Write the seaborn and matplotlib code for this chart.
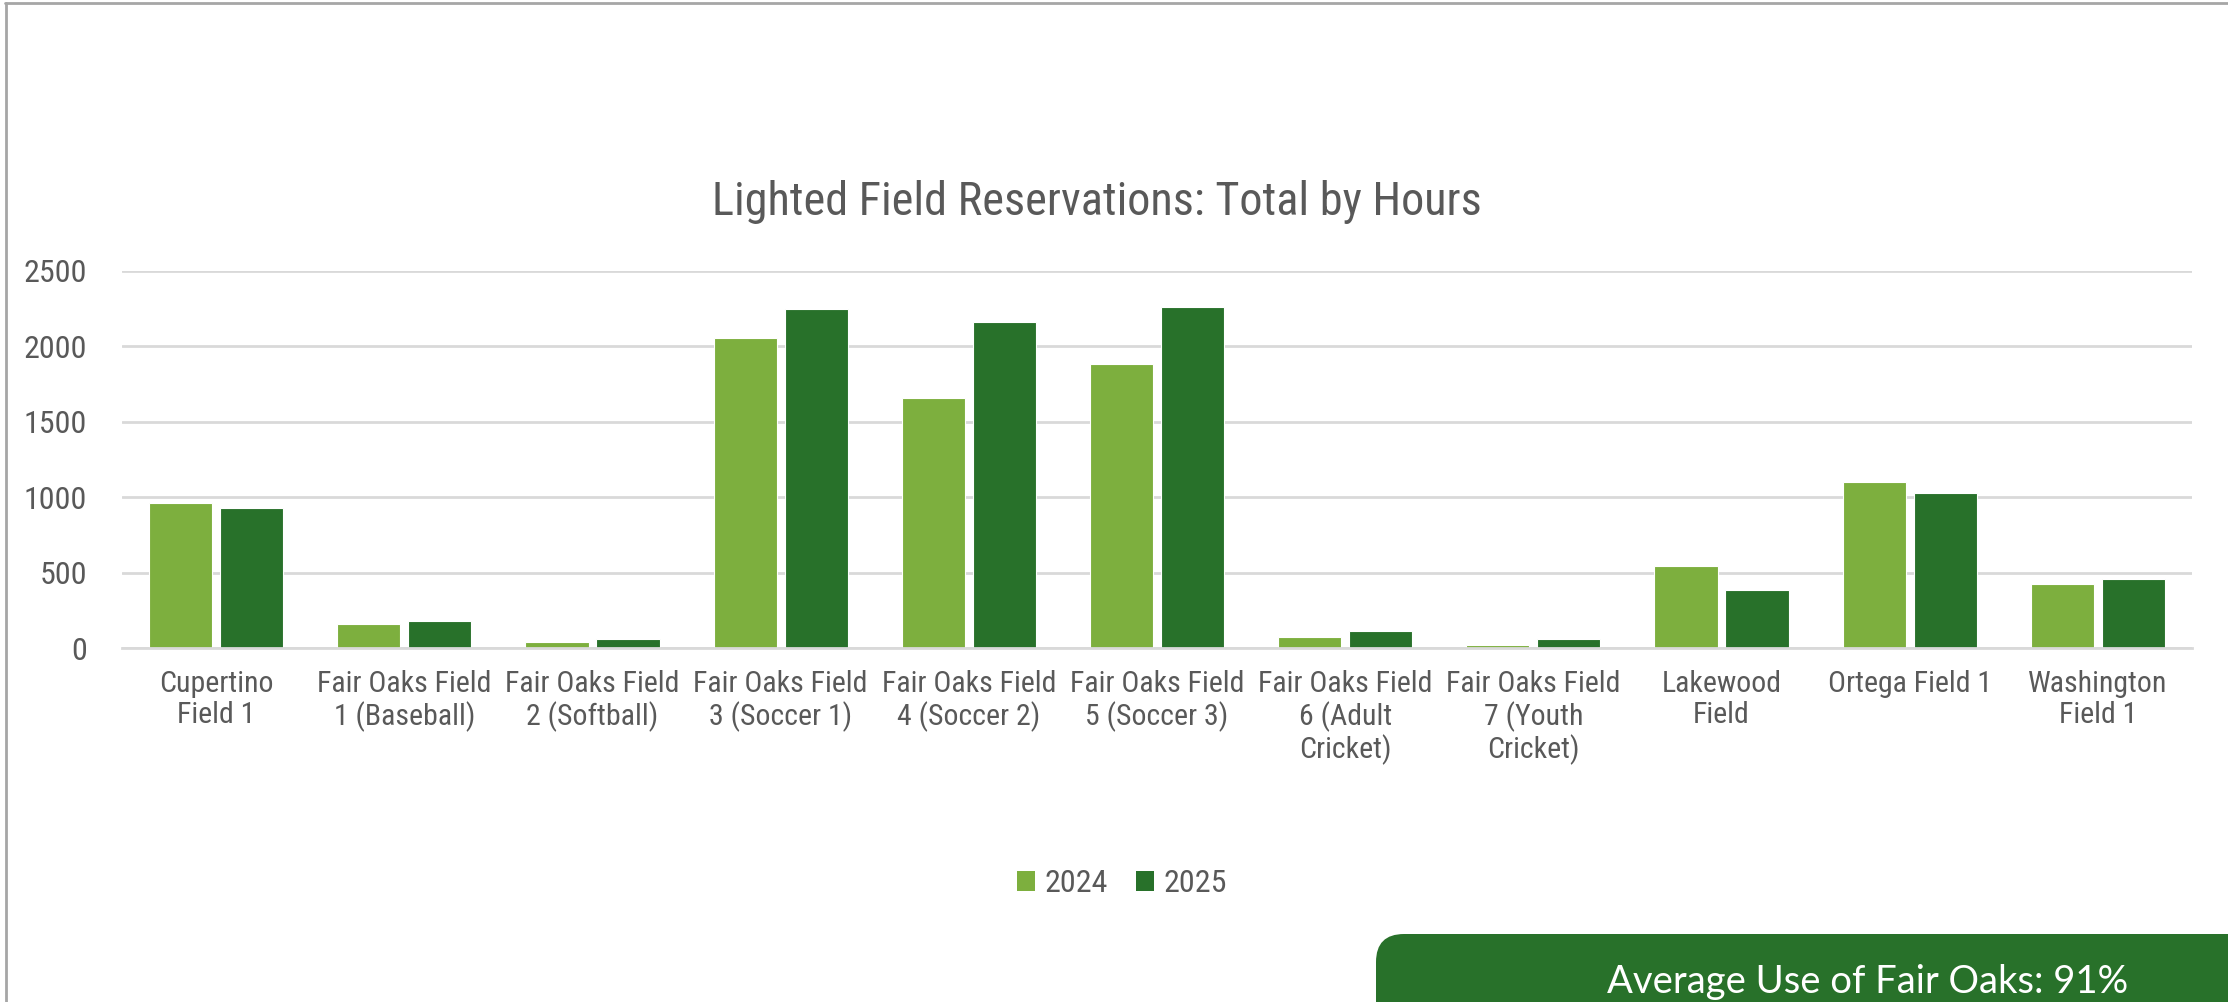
import matplotlib
matplotlib.use("Agg")
import matplotlib.pyplot as plt
from matplotlib import font_manager as fm
from matplotlib.patches import FancyBboxPatch
from matplotlib.lines import Line2D
import seaborn as sns
import pandas as pd

# ---- data ----
fields = [
    "Cupertino\nField 1",
    "Fair Oaks Field\n1 (Baseball)",
    "Fair Oaks Field\n2 (Softball)",
    "Fair Oaks Field\n3 (Soccer 1)",
    "Fair Oaks Field\n4 (Soccer 2)",
    "Fair Oaks Field\n5 (Soccer 3)",
    "Fair Oaks Field\n6 (Adult\nCricket)",
    "Fair Oaks Field\n7 (Youth\nCricket)",
    "Lakewood\nField",
    "Ortega Field 1",
    "Washington\nField 1",
]
hours_2024 = [958, 159, 40, 2054, 1656, 1881, 73, 22, 544, 1101, 422]
hours_2025 = [926, 179, 60, 2246, 2162, 2261, 110, 60, 387, 1030, 458]
years = ["2024", "2025"]
y_ticks = [0, 500, 1000, 1500, 2000, 2500]
title = "Lighted Field Reservations: Total by Hours"
callout = "Average Use of Fair Oaks: 91%"

LIGHT = "#7DAF3E"
DARK = "#28712A"
TXT = "#595959"
GRID = "#D9D9D9"

df = pd.DataFrame({
    "field": fields * 2,
    "hours": hours_2024 + hours_2025,
    "year": [years[0]] * len(fields) + [years[1]] * len(fields),
})

sns.set_theme(style="white")
avail = {f.name for f in fm.fontManager.ttflist}
cands = [n for n in ["Roboto Condensed", "Liberation Sans Narrow", "Open Sans Condensed"]
         if n in avail]
if cands:
    NARROW = [cands[0], "DejaVu Sans"]
    k = 1.0
else:
    NARROW = ["Liberation Sans", "DejaVu Sans"]
    k = 0.8
plt.rcParams["font.family"] = NARROW

W, H = 2228, 1002
fig = plt.figure(figsize=(W / 100, H / 100), dpi=100)
fig.patch.set_facecolor("white")

ax_l, ax_r, ax_b, ax_t = 122, 2192, 648, 270.7
ax = fig.add_axes([ax_l / W, 1 - ax_b / H, (ax_r - ax_l) / W, (ax_b - ax_t) / H])

sns.barplot(data=df, x="field", y="hours", hue="year", palette=[LIGHT, DARK],
            saturation=1, width=0.755, gap=0.11, edgecolor="white", linewidth=0.8,
            ax=ax, legend=False, zorder=3)

ax.set_xlim(-0.5, len(fields) - 0.5)
ax.set_ylim(0, 2500)
ax.set_yticks(y_ticks)
ax.set_yticklabels([str(v) for v in y_ticks])
ax.set_xlabel("")
ax.set_ylabel("")
ax.grid(axis="y", color=GRID, linewidth=2.0, zorder=0)
ax.grid(axis="x", visible=False)
for s in ["left", "right", "top"]:
    ax.spines[s].set_visible(False)
ax.spines["bottom"].set_color(GRID)
ax.spines["bottom"].set_linewidth(2.0)
ax.spines["bottom"].set_zorder(4)
ax.tick_params(axis="y", length=0, pad=25, labelsize=23 * k, labelcolor=TXT)
ax.tick_params(axis="x", length=0, pad=16, labelsize=21.5 * k, labelcolor=TXT)
for lbl in ax.get_xticklabels():
    lbl.set_linespacing(1.12 / k)
ax.set_facecolor("white")

# title
fig.text(1097 / W, 1 - 215 / H, title, ha="center", va="baseline",
         fontsize=33.3 * (0.92 if k < 1 else 1), color=TXT)

# legend
handles = [plt.Rectangle((0, 0), 1, 1, facecolor=LIGHT, edgecolor="none"),
           plt.Rectangle((0, 0), 1, 1, facecolor=DARK, edgecolor="none")]
fig.legend(handles, years, loc="center", bbox_to_anchor=(1122 / W, 1 - 884 / H),
           ncol=2, frameon=False, fontsize=23 * k, labelcolor=TXT,
           handlelength=0.55 / k, handleheight=0.6 / k, handletextpad=0.3,
           columnspacing=0.9, borderpad=0)

# frame lines (top & left)
fig.add_artist(Line2D([5 / W, 1.0], [1 - 3 / H, 1 - 3 / H], color="#A6A6A6",
                      linewidth=2, transform=fig.transFigure))
fig.add_artist(Line2D([6 / W, 6 / W], [0, 1 - 3 / H], color="#A6A6A6",
                      linewidth=2, transform=fig.transFigure))

# callout box (display pixels, origin bottom-left)
box = FancyBboxPatch((1376, -100), 1000, (H - 934) + 100,
                     boxstyle="round,pad=0,rounding_size=28", facecolor=DARK,
                     edgecolor="none", transform=None, zorder=5)
fig.add_artist(box)
fig.text(1868 / W, 1 - 993 / H, callout, ha="center", va="baseline",
         fontsize=27.5, color="white", family=["Lato", "DejaVu Sans"], zorder=6)

fig.savefig("out.png", dpi=100, facecolor="white")
